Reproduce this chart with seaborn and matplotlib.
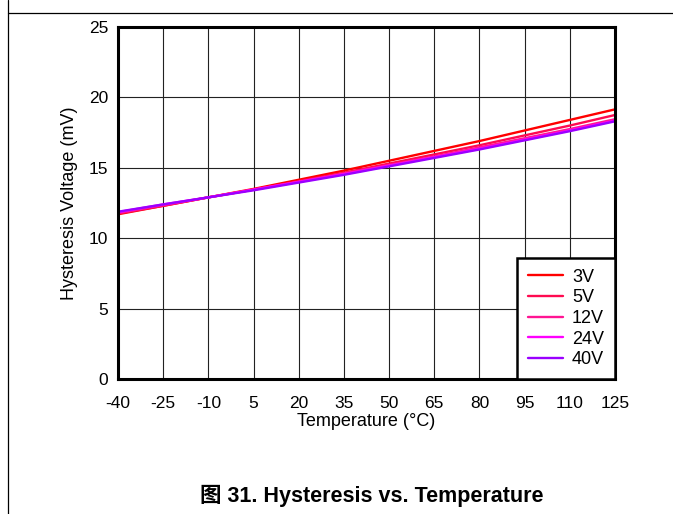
"""
Hysteresis vs. Temperature - datasheet style line chart.
"""

import pandas as pd
import matplotlib.pyplot as plt
import seaborn as sns
from matplotlib.lines import Line2D

# Data
temps = [-40, -25, -10, 5, 20, 35, 50, 65, 80, 95, 110, 125]
hyst_3v = [11.70, 12.30, 12.90, 13.50, 14.15, 14.80, 15.50, 16.20, 16.90, 17.65, 18.40, 19.15]
hyst_5v = [11.75, 12.30, 12.90, 13.45, 14.05, 14.65, 15.30, 15.95, 16.60, 17.30, 18.00, 18.75]
hyst_12v = [11.80, 12.35, 12.90, 13.45, 14.00, 14.60, 15.20, 15.80, 16.45, 17.10, 17.75, 18.45]
hyst_24v = [11.85, 12.40, 12.90, 13.45, 14.00, 14.55, 15.15, 15.75, 16.35, 17.00, 17.65, 18.35]
hyst_40v = [11.88, 12.40, 12.90, 13.40, 13.95, 14.50, 15.10, 15.70, 16.30, 16.95, 17.60, 18.30]
series_names = ['3V', '5V', '12V', '24V', '40V']
series_colors = ['#FF0000', '#FF0A50', '#FF1493', '#FF00FF', '#9A00FF']

sns.set_style('white', rc={'text.color': 'black', 'axes.labelcolor': 'black',
                           'xtick.color': 'black', 'ytick.color': 'black'})
plt.rcParams['font.family'] = ['Liberation Sans', 'DejaVu Sans']
plt.rcParams['axes.unicode_minus'] = False


def build_frame() -> pd.DataFrame:
    rows = []
    for name, vals in zip(series_names, [hyst_3v, hyst_5v, hyst_12v, hyst_24v, hyst_40v]):
        for t, v in zip(temps, vals):
            rows.append({'temp': t, 'hyst': v, 'supply': name})
    return pd.DataFrame(rows)


def main():
    df = build_frame()
    fig = plt.figure(figsize=(6.73, 5.14), dpi=100)
    ax = fig.add_axes([0.1753, 0.2626, 0.7385, 0.6849])

    sns.lineplot(data=df, x='temp', y='hyst', hue='supply', hue_order=series_names,
                 palette=series_colors, linewidth=1.7, ax=ax)

    ax.set_xlim(-40, 125)
    ax.set_ylim(0, 25)
    ax.set_xticks(temps)
    ax.set_yticks([0, 5, 10, 15, 20, 25])
    ax.grid(True, color='#222222', linewidth=0.8)
    ax.tick_params(axis='x', length=0, labelsize=12.5, pad=12)
    ax.tick_params(axis='y', length=0, labelsize=12.5, pad=7)
    for sp in ax.spines.values():
        sp.set_visible(True)
        sp.set_color('black')
        sp.set_linewidth(2.2)

    ax.set_xlabel('Temperature (°C)', fontsize=13, labelpad=2)
    ax.set_ylabel('Hysteresis Voltage (mV)', fontsize=13, labelpad=8)

    leg = ax.legend(loc='lower right', borderaxespad=0, fontsize=13, frameon=True,
                    fancybox=False, handlelength=1.95, labelspacing=0.2,
                    borderpad=0.6, handletextpad=0.5)
    leg.get_frame().set_edgecolor('black')
    leg.get_frame().set_linewidth(1.8)
    leg.get_frame().set_alpha(1)
    for line in leg.get_lines():
        line.set_linewidth(1.7)

    # page frame lines from the datasheet
    fig.add_artist(Line2D([8 / 673, 8 / 673], [0, 1], color='black', linewidth=0.9))
    fig.add_artist(Line2D([8 / 673, 1], [1 - 13 / 514, 1 - 13 / 514], color='black', linewidth=0.9))

    fig.text(372 / 673, 1 - 496 / 514, '图 31. Hysteresis vs. Temperature',
             ha='center', va='center', fontsize=15.5, fontweight='bold',
             family=['Liberation Sans', 'Noto Sans CJK SC'])

    fig.savefig('out.png', dpi=100)
    plt.close(fig)


if __name__ == "__main__":
    main()
